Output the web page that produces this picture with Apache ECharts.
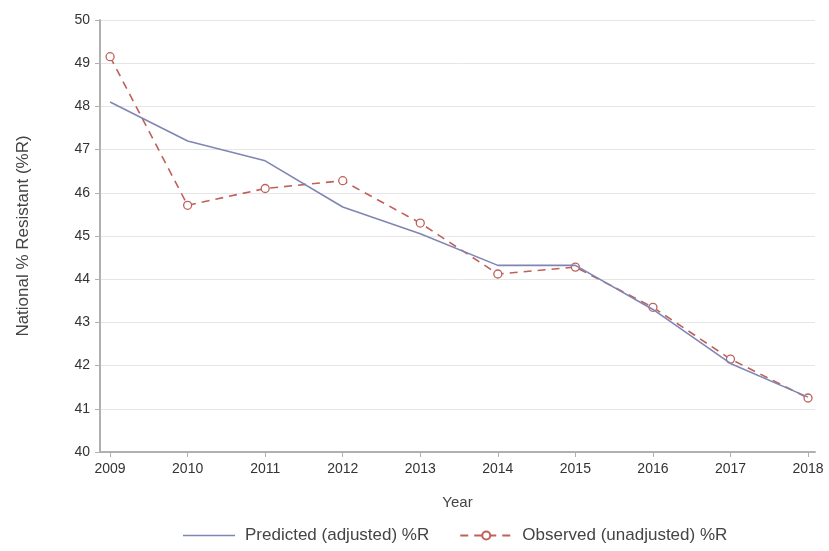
<!DOCTYPE html>
<html>
<head>
<meta charset="utf-8">
<script src="https://cdn.jsdelivr.net/npm/echarts@6/dist/echarts.min.js"></script>
<style>
  html, body { margin: 0; padding: 0; background: #fff; }
  #main { width: 829px; height: 551px; }
</style>
</head>
<body>
<div id="main"></div>
<script>
var years = [2009, 2010, 2011, 2012, 2013, 2014, 2015, 2016, 2017, 2018];
var predicted = [48.1, 47.2, 46.74, 45.67, 45.05, 44.32, 44.32, 43.3, 42.05, 41.27];
var observed = [49.15, 45.71, 46.1, 46.28, 45.3, 44.12, 44.28, 43.35, 42.15, 41.25];

function pairs(vals) {
  return years.map(function (y, i) { return [y, vals[i]]; });
}

var chart = echarts.init(document.getElementById('main'));
var font = 'Liberation Sans, Arial, sans-serif';

var option = {
  backgroundColor: '#fff',
  textStyle: { fontFamily: font },
  grid: { left: 100, right: 14, top: 20, bottom: 99 },
  xAxis: {
    type: 'value',
    min: 2008.87,
    max: 2018.09,
    name: 'Year',
    nameLocation: 'middle',
    nameGap: 43,
    nameTextStyle: { color: '#444', fontSize: 15, fontFamily: font },
    axisLine: { lineStyle: { color: '#b0b0b0', width: 2 } },
    axisTick: { show: true, length: 5, customValues: years, lineStyle: { color: '#b0b0b0' } },
    axisLabel: {
      customValues: years, color: '#333', fontSize: 14, margin: 10, fontFamily: font,
      formatter: function (v) { return String(v); }
    },
    splitLine: { show: false }
  },
  yAxis: {
    type: 'value',
    min: 40,
    max: 50,
    interval: 1,
    name: 'National % Resistant (%R)',
    nameLocation: 'middle',
    nameGap: 68,
    nameTextStyle: { color: '#444', fontSize: 17, fontFamily: font },
    axisLine: { show: true, lineStyle: { color: '#b0b0b0', width: 2 } },
    axisTick: { show: true, length: 5, lineStyle: { color: '#b0b0b0' } },
    axisLabel: { color: '#333', fontSize: 14, margin: 10, fontFamily: font },
    splitLine: { show: true, lineStyle: { color: '#e6e6e6', width: 1 } }
  },
  legend: {
    bottom: 2,
    left: 178,
    itemWidth: 52,
    itemHeight: 10,
    itemGap: 30,
    textStyle: { color: '#444', fontSize: 17, fontFamily: font, padding: [0, 0, 0, 5] },
    data: [
      { name: 'Predicted (adjusted) %R', icon: 'path://M0,0H52V1.6H0Z' },
      { name: 'Observed (unadjusted) %R' }
    ]
  },
  series: [
    {
      name: 'Predicted (adjusted) %R',
      type: 'line',
      data: pairs(predicted),
      symbol: 'none',
      lineStyle: { color: '#7f86b4', width: 1.6 },
      itemStyle: { color: '#7f86b4' },
      z: 3
    },
    {
      name: 'Observed (unadjusted) %R',
      type: 'line',
      data: pairs(observed),
      symbol: 'circle',
      symbolSize: 8,
      lineStyle: { color: '#bf615a', width: 1.6, type: [8, 6] },
      itemStyle: { color: '#fff', borderColor: '#bf615a', borderWidth: 1.3 },
      z: 2
    }
  ]
};

chart.setOption(option);
</script>
</body>
</html>
